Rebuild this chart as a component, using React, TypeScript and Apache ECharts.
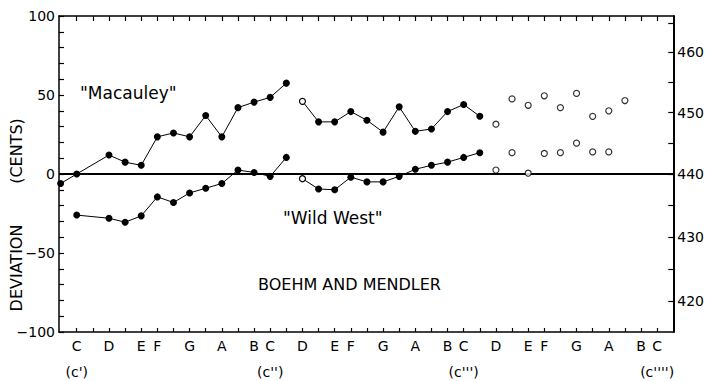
import React, { useEffect, useRef } from "react";
import * as echarts from "echarts";

// x positions are semitones above c' (0 = c', 12 = c'', 24 = c''', 36 = c'''')
const noteNames = ["C", "", "D", "", "E", "F", "", "G", "", "A", "", "B"];
const octaveLabels = ["(c')", "(c'')", "(c''')", "(c'''')"];
const octaveSemis = [0, 12, 24, 36];
const semitoneTicks = [0,1,2,3,4,5,6,7,8,9,10,11,12,13,14,15,16,17,18,19,20,21,22,23,24,25,26,27,28,29,30,31,32,33,34,35,36];
const noteLabelSemis = [0,2,4,5,7,9,11,12,14,16,17,19,21,23,24,26,28,29,31,33,35,36];

const centsLabels = [-100, -50, 0, 50, 100];
const hzTicks = [420, 425, 430, 435, 440, 445, 450, 455, 460, 465];
const hzLabels = [420, 430, 440, 450, 460];

// "Macauley"
const macSeg1Notes = [-1, 0, 2, 3, 4, 5, 6, 7, 8, 9, 10, 11, 12, 13];
const macSeg1Cents = [-6, 0, 12, 7.5, 5.5, 23.5, 26, 23.5, 37, 23.5, 42, 45.5, 48.5, 57.5];
const macSeg2Notes = [14, 15, 16, 17, 18, 19, 20, 21, 22, 23, 24, 25];
const macSeg2Cents = [46, 33, 33, 39.5, 34, 26.5, 42.5, 27, 28.5, 39.5, 44, 36.5];
const macOpenNotes = [26, 27, 28, 29, 30, 31, 32, 33, 34];
const macOpenCents = [31.5, 47.5, 43.5, 49.5, 42, 51, 36.5, 40, 46.5];

// "Wild West"
const wwSeg1Notes = [0, 2, 3, 4, 5, 6, 7, 8, 9, 10, 11, 12, 13];
const wwSeg1Cents = [-26, -28, -30.5, -26.5, -14.5, -18, -12, -9, -6, 2.5, 1, -1.5, 10.5];
const wwSeg2Notes = [14, 15, 16, 17, 18, 19, 20, 21, 22, 23, 24, 25];
const wwSeg2Cents = [-3, -9.5, -10, -2, -5, -5, -1.5, 3, 5.5, 7.5, 10.5, 13.5];
const wwOpenNotes = [26, 27, 28, 29, 30, 31, 32, 33];
const wwOpenCents = [2.5, 13.5, 0.5, 13, 13.5, 19.5, 14, 14];

const FONT = "DejaVu Sans";
const BLACK = "#000";

const centsOf = (hz: number) => 1200 * Math.log2(hz / 440);
const openStyle = { color: "#fff", borderColor: BLACK, borderWidth: 1.2 };

function pairs(xs: number[], ys: number[]) {
  return xs.map((x, i) => [x, ys[i]]);
}

function lineSeg(xs: number[], ys: number[], firstOpen: boolean, extra: any = {}) {
  const data = pairs(xs, ys).map((p, i) =>
    firstOpen && i === 0 ? { value: p, symbolSize: 6, itemStyle: openStyle } : { value: p }
  );
  return {
    type: "line",
    data,
    symbol: "circle",
    symbolSize: 7,
    showAllSymbol: true,
    clip: false,
    itemStyle: { color: BLACK },
    lineStyle: { color: BLACK, width: 1 },
    z: 3,
    ...extra,
  };
}

function openScatter(xs: number[], ys: number[]) {
  return {
    type: "scatter",
    data: pairs(xs, ys),
    symbol: "circle",
    symbolSize: 6,
    clip: false,
    itemStyle: openStyle,
    z: 3,
  };
}

export default function App() {
  const ref = useRef<HTMLDivElement>(null);
  useEffect(() => {
    if (!ref.current) return;
    const chart = echarts.init(ref.current, undefined, { renderer: "svg" });
    const axisLine = (w: number) => ({ show: true, onZero: false, lineStyle: { color: BLACK, width: w } });
    const labelFont = { color: BLACK, fontFamily: FONT, fontSize: 14 };
    const option: any = {
      animation: false,
      grid: { left: 59, right: 33, top: 16, bottom: 49 },
      xAxis: [
        {
          type: "value",
          position: "bottom",
          min: -1.1,
          max: 37,
          axisLine: axisLine(1.5),
          axisTick: { show: true, inside: true, length: 4, customValues: semitoneTicks, lineStyle: { color: BLACK, width: 1.2 } },
          axisLabel: {
            customValues: noteLabelSemis,
            showMinLabel: true,
            showMaxLabel: true,
            hideOverlap: false,
            formatter: (v: number) => noteNames[((Math.round(v) % 12) + 12) % 12],
            ...labelFont,
            margin: 7,
          },
          splitLine: { show: false },
        },
        {
          type: "value",
          position: "top",
          min: -1.1,
          max: 37,
          axisLine: axisLine(1.5),
          axisTick: { show: true, inside: true, length: 5, customValues: semitoneTicks, lineStyle: { color: BLACK, width: 1.2 } },
          axisLabel: { show: false },
          splitLine: { show: false },
        },
        {
          type: "value",
          position: "bottom",
          min: -1.1,
          max: 37,
          axisLine: { show: false, onZero: false },
          axisTick: { show: false },
          axisLabel: {
            customValues: octaveSemis,
            showMinLabel: true,
            showMaxLabel: true,
            hideOverlap: false,
            formatter: (v: number) => octaveLabels[Math.round(v / 12)],
            ...labelFont,
            margin: 33,
          },
          splitLine: { show: false },
        },
      ],
      yAxis: [
        {
          type: "value",
          position: "left",
          min: -100,
          max: 100,
          interval: 10,
          axisLine: axisLine(1.5),
          axisTick: { show: true, inside: true, length: 5, lineStyle: { color: BLACK, width: 1.2 } },
          axisLabel: {
            customValues: centsLabels,
            showMinLabel: true,
            showMaxLabel: true,
            formatter: (v: number) => (v < 0 ? "\u2212" + -v : String(v)),
            ...labelFont,
            margin: 4,
          },
          splitLine: { show: false },
        },
        {
          type: "value",
          position: "right",
          min: -100,
          max: 100,
          axisLine: axisLine(2),
          axisTick: { show: true, inside: true, length: 5, customValues: hzTicks.map(centsOf), lineStyle: { color: BLACK, width: 1.2 } },
          axisLabel: {
            customValues: hzLabels.map(centsOf),
            formatter: (v: number) => String(Math.round(440 * Math.pow(2, v / 1200))),
            ...labelFont,
            margin: 4,
          },
          splitLine: { show: false },
        },
      ],
      series: [
        lineSeg(macSeg1Notes, macSeg1Cents, false, {
          markLine: {
            silent: true,
            symbol: ["none", "none"],
            label: { show: false },
            lineStyle: { color: BLACK, width: 2, type: "solid" },
            data: [{ yAxis: 0 }],
            z: 2,
          },
        }),
        lineSeg(macSeg2Notes, macSeg2Cents, true),
        openScatter(macOpenNotes, macOpenCents),
        lineSeg(wwSeg1Notes, wwSeg1Cents, false),
        lineSeg(wwSeg2Notes, wwSeg2Cents, true),
        openScatter(wwOpenNotes, wwOpenCents),
      ],
      graphic: [
        { type: "text", x: 80, y: 93, style: { text: '"Macauley"', fontFamily: FONT, fontSize: 17, fill: BLACK, verticalAlign: "middle" } },
        { type: "text", x: 283, y: 218, style: { text: '"Wild West"', fontFamily: FONT, fontSize: 17, fill: BLACK, verticalAlign: "middle" } },
        { type: "text", x: 258, y: 284, style: { text: "BOEHM AND MENDLER", fontFamily: FONT, fontSize: 16, fill: BLACK, verticalAlign: "middle" } },
        { type: "text", x: 16.5, y: 268, rotation: Math.PI / 2, style: { text: "DEVIATION", fontFamily: FONT, fontSize: 16, fill: BLACK, align: "center", verticalAlign: "middle" } },
        { type: "text", x: 16.5, y: 151, rotation: Math.PI / 2, style: { text: "(CENTS)", fontFamily: FONT, fontSize: 16, fill: BLACK, align: "center", verticalAlign: "middle" } },
      ],
    };
    chart.setOption(option);
    return () => chart.dispose();
  }, []);
  return (
    <div
      ref={ref}
      style={{ position: "absolute", left: 0, top: 0, width: 707, height: 381, background: "#fff" }}
    />
  );
}
